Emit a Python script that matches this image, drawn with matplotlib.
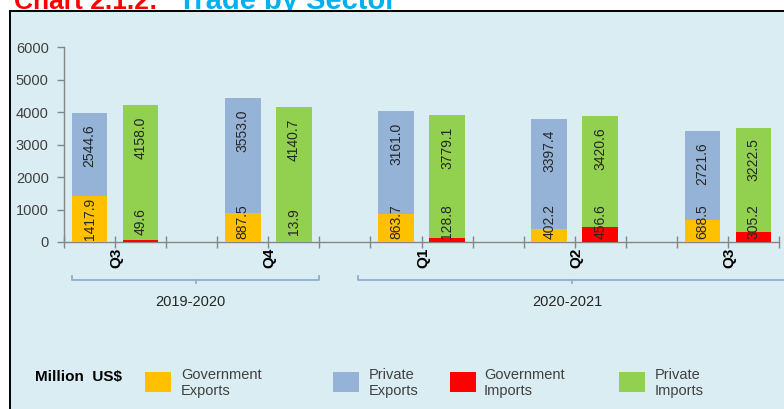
import matplotlib
matplotlib.use("Agg")
import matplotlib.pyplot as plt
from matplotlib.patches import Rectangle
from matplotlib.lines import Line2D
from matplotlib.transforms import blended_transform_factory

# ---- data (million US$) ----
quarters = ["Q3", "Q4", "Q1", "Q2", "Q3"]
fiscal_years = ["2019-2020", "2020-2021"]
gov_exports = [1417.9, 887.5, 863.7, 402.2, 688.5]
priv_exports = [2544.6, 3553.0, 3161.0, 3397.4, 2721.6]
gov_imports = [49.6, 13.9, 128.8, 456.6, 305.2]
priv_imports = [4158.0, 4140.7, 3779.1, 3420.6, 3222.5]
y_ticks = [0, 1000, 2000, 3000, 4000, 5000, 6000]
series_names = ["Government\nExports", "Private\nExports",
                "Government\nImports", "Private\nImports"]

# ---- style ----
C_GOV_EXP = "#FFC000"
C_PRIV_EXP = "#95B3D7"
C_GOV_IMP = "#FF0000"
C_PRIV_IMP = "#92D050"
series_colors = [C_GOV_EXP, C_PRIV_EXP, C_GOV_IMP, C_PRIV_IMP]
PANEL = "#DAEDF3"
AXIS = "#868686"
BRACKET = "#8EADD2"
TXT = "#404040"
FONT = "Liberation Sans"

plt.rcParams["font.family"] = [FONT, "DejaVu Sans"]

W, H = 784, 409
fig = plt.figure(figsize=(W / 100, H / 100), dpi=100)
fig.patch.set_facecolor("white")


def fx(x):
    return x / W


def fy(y):
    return 1 - y / H


# title (runs off the top edge of the canvas)
fig.text(fx(14), fy(9), "Chart 2.1.2:", color="#FF0000", fontsize=19,
         fontweight="bold", va="baseline", ha="left", zorder=0.5)
fig.text(fx(178), fy(9), "Trade by Sector", color="#00B0F0", fontsize=21,
         fontweight="bold", va="baseline", ha="left", zorder=0.5)

# light blue panel with left/top border
panel = Rectangle((fx(10), -0.2), 1.5, fy(11) + 0.2, transform=fig.transFigure,
                  facecolor=PANEL, edgecolor="black", linewidth=1.4, zorder=1)
fig.patches.append(panel)

ax = fig.add_axes([fx(64), fy(242), fx(779) - fx(64), fy(47.3) - fy(242)])
ax.set_zorder(2)
ax.patch.set_visible(False)

n_slots = 3 * len(quarters) - 1
ax.set_xlim(0, n_slots)
ax.set_ylim(0, 6000)

width = 0.7
exp_x = [3 * i + 0.5 for i in range(len(quarters))]
imp_x = [3 * i + 1.5 for i in range(len(quarters))]

ax.bar(exp_x, gov_exports, width, color=C_GOV_EXP, zorder=3)
ax.bar(exp_x, priv_exports, width, bottom=gov_exports, color=C_PRIV_EXP, zorder=3)
ax.bar(imp_x, gov_imports, width, color=C_GOV_IMP, zorder=3)
ax.bar(imp_x, priv_imports, width, bottom=gov_imports, color=C_PRIV_IMP, zorder=3)


def label(x, value, bottom, lower):
    top = bottom + value
    mid = bottom + value / 2
    if lower:
        yc = max(mid, 640)
    else:
        yc = max(mid, top - 1000)
    ax.text(x, yc, f"{value:.1f}", rotation=90, ha="center", va="center",
            fontsize=10, color="#262626", zorder=4)


for i in range(len(quarters)):
    label(exp_x[i], gov_exports[i], 0, True)
    label(exp_x[i], priv_exports[i], gov_exports[i], False)
    label(imp_x[i], gov_imports[i], 0, True)
    label(imp_x[i], priv_imports[i], gov_imports[i], False)

# axes styling
for s in ("top", "right"):
    ax.spines[s].set_visible(False)
for s in ("left", "bottom"):
    ax.spines[s].set_color(AXIS)
    ax.spines[s].set_linewidth(1.0)
ax.set_yticks(y_ticks)
ax.set_yticklabels([str(t) for t in y_ticks])
ax.tick_params(axis="y", direction="out", length=5, width=1, color=AXIS,
               labelsize=10.5, labelcolor=TXT, pad=6)
ax.set_xticks(range(n_slots + 1))
ax.set_xticklabels([])
ax.tick_params(axis="x", direction="inout", length=8, width=1, color=AXIS)

# quarter labels and fiscal-year brackets below the axis
bt = blended_transform_factory(ax.transData, ax.transAxes)
for i, q in enumerate(quarters):
    ax.text(3 * i + 1.03, -0.082, q, rotation=90, ha="center", va="center",
            fontsize=11, fontweight="bold", color="black", transform=bt,
            clip_on=False)

spans = [(0.15, 5.0), (5.75, 14.15)]
yb = -0.195
up = 0.018
for (x0, x1), yr in zip(spans, fiscal_years):
    xm = (x0 + x1) / 2
    for xs, ys in (([x0, x0, x1, x1], [yb + up, yb, yb, yb + up]),
                   ([xm, xm], [yb, yb - up])):
        ax.add_line(Line2D(xs, ys, color=BRACKET, linewidth=1.3,
                           transform=bt, clip_on=False))
    ax.text(xm - 0.1, -0.31, yr, ha="center", va="center", fontsize=10.5,
            color="#262626", transform=bt, clip_on=False)

# legend row
fig.text(fx(35), fy(377), "Million  US$", fontsize=11, fontweight="bold",
         color="black", ha="left", va="center", zorder=3)
box_x = [145, 333, 450, 619]
text_x = [181, 369, 484, 655]
for bx, tx_, name, col in zip(box_x, text_x, series_names, series_colors):
    fig.patches.append(Rectangle((fx(bx), fy(392)), fx(26), 20 / H,
                                 transform=fig.transFigure, facecolor=col,
                                 edgecolor="none", zorder=3))
    fig.text(fx(tx_), fy(383), name, fontsize=10.5, color=TXT, ha="left",
             va="center", linespacing=1.15, zorder=3)

fig.savefig("out.png", dpi=100, facecolor="white")
